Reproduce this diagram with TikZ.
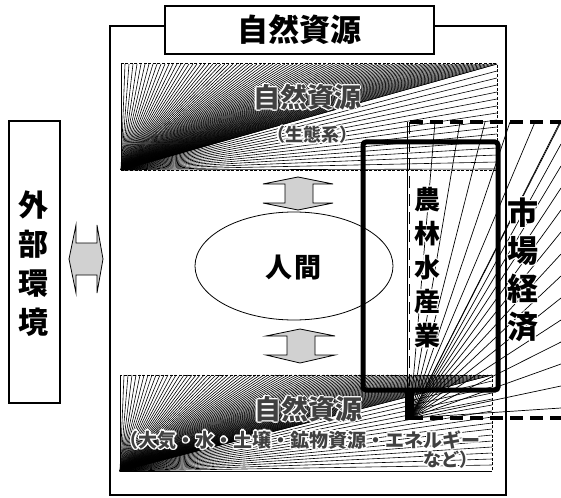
\documentclass[tikz,border=0pt]{standalone}
\usepackage{fontspec}
\usetikzlibrary{shapes.geometric}
\newfontfamily\jp{Noto Sans CJK JP}
\tikzset{
  fanline/.style={line width=0.6pt},
  bandframe/.style={line width=1pt, dash pattern=on 3pt off 1.6pt},
  mktline/.style={line width=3.2pt, dash pattern=on 13pt off 7pt},
  twinarrow/.style={fill=black!18, draw=black, line width=0.8pt, line join=miter},
  frameline/.style={draw, line width=1.3pt},
  jpfont/.style={font={\jp\bfseries\fontsize{#1}{#1}\selectfont}, inner sep=0pt},
  vtext/.style 2 args={font={\jp\bfseries\fontsize{#1}{#2}\selectfont}, inner sep=0pt, align=center},
}
\newcommand\halolabel[4]{%
  \foreach \hx/\hy in {1.3/0,-1.3/0,0/1.3,0/-1.3,0.9/0.9,-0.9/0.9,0.9/-0.9,-0.9/-0.9}{%
    \node[#3, text=white, xshift=\hx pt, yshift=\hy pt] at #2 {#4};}%
  \node[#3] (#1) at #2 {#4};}
\begin{document}
\begin{tikzpicture}[x=1pt,y=-1pt]
\useasboundingbox (0,0) rectangle (561,497);
% ---------- fans ----------
\foreach \i in {0,4,...,376} \draw[fanline] (121,170) -- (121+\i,64);
\foreach \j in {0,7,...,105} \draw[fanline] (121,170) -- (497,64+\j);
\foreach \i in {0,4,...,372} \draw[fanline] (120,471) -- (120+\i,375);
\foreach \j in {0,6,...,96} \draw[fanline] (120,471) -- (492,375+\j);
\foreach \i in {25,50,...,150} \draw[fanline, line width=0.7pt] (410,418) -- (410+\i,122);
\foreach \j in {0,22,...,286} \draw[fanline, line width=0.7pt] (410,418) -- (561,122+\j);
% ---------- band frames ----------
\draw[bandframe] (121,64) rectangle (497,170);
\draw[bandframe] (120,375) rectangle (492,471);
% ---------- band texts ----------
\halolabel{bandtopA}{(307,97)}{jpfont=27, text=black!75}{自然資源}
\halolabel{bandtopB}{(312,135)}{jpfont=18, text=black!75}{（生態系）}
\halolabel{bandbotA}{(308,409)}{jpfont=27, text=black!75}{自然資源}
\halolabel{bandbotB}{(481,440)}{jpfont=19, text=black!75, anchor=east}{（大気・水・土壌・鉱物資源・エネルギー}
\halolabel{bandbotC}{(478,460)}{jpfont=18, text=black!75, anchor=east}{など）}
% ---------- outer frame and title ----------
\draw[frameline] (110,26) rectangle (506,495);
\node[frameline, fill=white, minimum width=269pt, minimum height=48pt, inner sep=0pt,
      jpfont=31] (title) at (299.5,30) {自然資源};
% ---------- external box ----------
\node[frameline, minimum width=51pt, minimum height=282pt, inner sep=0pt] (extbox) at (34.5,262) {};
\node[vtext={30}{39}] (exttext) at (33,264) {外\\部\\環\\境};
% ---------- human ----------
\node[draw, line width=0.8pt, ellipse, minimum width=198pt, minimum height=108pt, inner sep=0pt] (human) at (294,266) {};
\node[jpfont=27] (humantext) at (293,268) {人\hspace{2pt}間};
% ---------- market region ----------
\draw[mktline] (410,122) -- (561,122);
\draw[mktline] (410,418) -- (561,418);
\draw[line width=1.6pt] (407.5,122) -- (407.5,418);
\draw[line width=1.6pt, dash pattern=on 12pt off 6pt] (409.5,122) -- (409.5,418);
\fill (405,388) rectangle (414,420);
% ---------- agriculture box ----------
\node[draw, line width=5pt, rounded corners=3pt, minimum width=135pt, minimum height=248pt, inner sep=0pt] (agri) at (430.5,266) {};
\halolabel{agritext}{(427,268)}{vtext={26}{34}}{農\\林\\水\\産\\業}
\halolabel{mkttext}{(523,270)}{vtext={31}{38}}{市\\場\\経\\済}
% ---------- arrows ----------
\draw[twinarrow] (69,259) -- (76,225) -- (76,243) -- (97,243) -- (97,225) -- (103,259)
   -- (97,293) -- (97,275) -- (76,275) -- (76,293) -- cycle;
\draw[twinarrow] (298,177) -- (333,184) -- (313,184) -- (313,203) -- (333,203) -- (298,210)
   -- (263,203) -- (285,203) -- (285,184) -- (263,184) -- cycle;
\draw[twinarrow] (300,329) -- (335,336) -- (315,336) -- (315,355) -- (335,355) -- (300,363)
   -- (266,355) -- (287,355) -- (287,336) -- (266,336) -- cycle;
\end{tikzpicture}
\end{document}
